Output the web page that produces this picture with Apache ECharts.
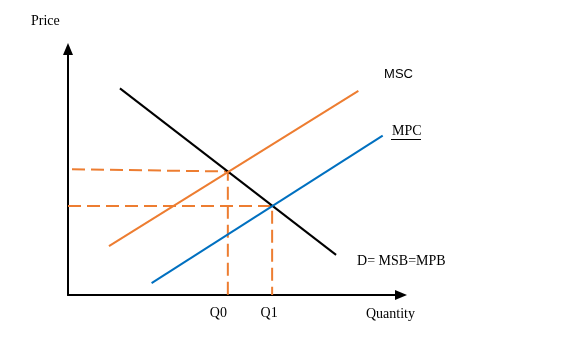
<!DOCTYPE html>
<html>
<head>
<meta charset="utf-8">
<script src="https://cdn.jsdelivr.net/npm/echarts@6/dist/echarts.min.js"></script>
<style>html,body{margin:0;padding:0;background:#fff}#c{width:575px;height:359px}</style>
</head>
<body>
<div id="c"></div>
<script>
// Curves (quantity, price) in arbitrary 0-100 units
const demand = [[15.6, 84.0], [80.5, 16.3]];
const msc = [[12.3, 19.9], [87.2, 83.0]];
const mpc = [[25.1, 4.8], [94.5, 64.8]];
// Equilibria
const q0 = 48.0, p0 = 50.2, p0Left = 51.1, p0Start = 1.2;
const q1 = 61.3, p1 = 36.2;
const labels = { d: 'D= MSB=MPB', msc: 'MSC', mpc: 'MPC', q0: 'Q0', q1: 'Q1', x: 'Quantity', y: 'Price' };

const ORANGE = '#ED7D31', BLUE = '#0070C0';
const serif = 'Liberation Serif';

const chart = echarts.init(document.getElementById('c'));
function endLabel(text, off, font, size) {
  return { show: true, position: 'right', distance: 0, offset: off, formatter: text,
           fontFamily: font, fontSize: size, color: '#000' };
}
const dash = { color: ORANGE, width: 2, type: [13, 6] };
const axisLine = { lineStyle: { color: '#000', width: 2 }, symbol: ['none', 'triangle'], symbolSize: [10, 12], symbolOffset: [0, 0] };
chart.setOption({
  animation: false,
  grid: { left: 68, top: 49, width: 333, height: 246 },
  xAxis: { type: 'value', min: 0, max: 100, splitLine: { show: false }, axisTick: { show: false },
    axisLabel: { show: false }, axisLine: axisLine },
  yAxis: { type: 'value', min: 0, max: 100, splitLine: { show: false }, axisTick: { show: false },
    axisLabel: { show: false }, axisLine: axisLine },
  series: [
    { type: 'line', symbolSize: 0.01, itemStyle: { color: 'transparent' }, lineStyle: dash,
      data: [[p0Start, p0Left], { value: [q0, p0] }, { value: [q0, 0], label: { show: true, position: 'bottom', distance: 0, offset: [-9.5, 10], formatter: labels.q0, fontFamily: serif, fontSize: 14, color: '#000' } }] },
    { type: 'line', symbolSize: 0.01, itemStyle: { color: 'transparent' }, lineStyle: dash,
      data: [[0, p1], { value: [q1, p1] }, { value: [q1, 0], label: { show: true, position: 'bottom', distance: 0, offset: [-3, 10], formatter: labels.q1, fontFamily: serif, fontSize: 14, color: '#000' } }] },
    { type: 'line', symbolSize: 0.01, itemStyle: { color: 'transparent' }, lineStyle: { color: '#000', width: 2 },
      data: [demand[0], { value: demand[1], label: endLabel(labels.d, [20, 6.7], serif, 14) }] },
    { type: 'line', symbolSize: 0.01, itemStyle: { color: 'transparent' }, lineStyle: { color: ORANGE, width: 2 },
      data: [msc[0], { value: msc[1], label: endLabel(labels.msc, [24.7, -16.7], 'Liberation Sans', 13) }] },
    { type: 'line', symbolSize: 0.01, itemStyle: { color: 'transparent' }, lineStyle: { color: BLUE, width: 2 },
      data: [mpc[0], { value: mpc[1], label: endLabel(labels.mpc, [8.3, -4], serif, 14) }] }
  ],
  graphic: [
    { type: 'text', left: 31, top: 14, style: { text: labels.y, font: '14px "Liberation Serif"', fill: '#000' } },
    { type: 'text', left: 366, top: 307, style: { text: labels.x, font: '14px "Liberation Serif"', fill: '#000' } },
    { type: 'line', shape: { x1: 391, y1: 139.5, x2: 421, y2: 139.5 }, style: { stroke: '#000', lineWidth: 1 } }
  ]
});
</script>
</body>
</html>
